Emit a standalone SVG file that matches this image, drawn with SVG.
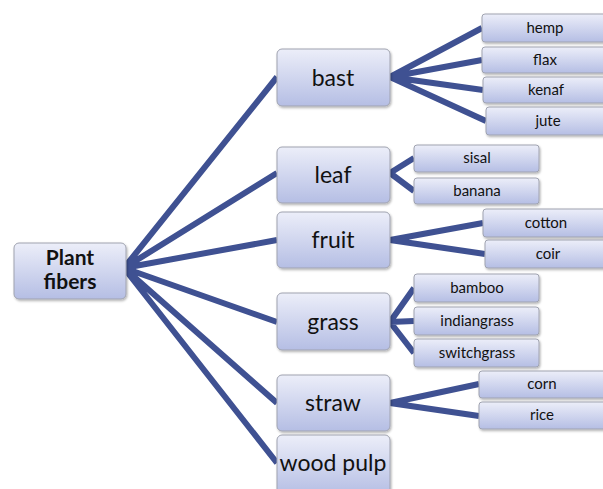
<svg xmlns="http://www.w3.org/2000/svg" width="603" height="489" viewBox="0 0 603 489">
<defs>
<linearGradient id="g" x1="0" y1="0" x2="0" y2="1">
<stop offset="0" stop-color="#eceef9"/>
<stop offset="1" stop-color="#b5bee4"/>
</linearGradient>
<filter id="sh" x="-10%" y="-10%" width="130%" height="140%">
<feDropShadow dx="1" dy="1.5" stdDeviation="1" flood-color="#000" flood-opacity="0.3"/>
</filter>
</defs>
<style>
.box{fill:url(#g);stroke:#a0a3b0;stroke-width:1;filter:url(#sh)}
.t{font-family:Lato,"Liberation Sans",sans-serif;fill:#111;text-anchor:middle}
.m{font-size:23px}
.s{font-size:15px}
.r{font-size:21px;font-weight:bold}
.c{stroke:#3f5192;stroke-width:6;fill:none;stroke-linecap:butt}
</style>
<rect width="603" height="489" fill="#fff"/>
<g id="connectors">
<path class="c" d="M124 268L277 77M124 268L277 173M124 268L277 240M124 268L277 322M124 268L277 403M124 268L277 463"/>
<path class="c" d="M390 77L482 28M390 77L482 60M390 77L483 90M390 77L486 121"/>
<path class="c" d="M390 173L414 158M390 173L414 191"/>
<path class="c" d="M390 240L483 223M390 240L485 254"/>
<path class="c" d="M390 322L414 288M390 322L414 321M390 322L414 353"/>
<path class="c" d="M390 403L479 384M390 403L479 416"/>
</g>
<g id="plant-fibers"><rect class="box" x="14" y="243" width="112" height="56" rx="5"/><text class="t r" x="70" y="265">Plant</text><text class="t r" x="70" y="289">fibers</text></g>
<g id="bast"><rect class="box" x="277" y="49" width="113" height="57" rx="5"/><text class="t m" x="333" y="86">bast</text></g>
<g id="leaf"><rect class="box" x="277" y="147" width="113" height="56" rx="5"/><text class="t m" x="333" y="183">leaf</text></g>
<g id="fruit"><rect class="box" x="277" y="212" width="113" height="56" rx="5"/><text class="t m" x="333" y="248">fruit</text></g>
<g id="grass"><rect class="box" x="277" y="293" width="113" height="57" rx="5"/><text class="t m" x="333" y="330">grass</text></g>
<g id="straw"><rect class="box" x="277" y="375" width="113" height="56" rx="5"/><text class="t m" x="333" y="411">straw</text></g>
<g id="wood-pulp"><rect class="box" x="277" y="435" width="113" height="60" rx="5"/><text class="t m" x="333" y="471">wood pulp</text></g>
<g id="hemp"><rect class="box" x="482" y="14" width="130" height="28" rx="3"/><text class="t s" x="545" y="33">hemp</text></g>
<g id="flax"><rect class="box" x="482" y="47" width="130" height="26" rx="3"/><text class="t s" x="545" y="65">flax</text></g>
<g id="kenaf"><rect class="box" x="483" y="77" width="130" height="26" rx="3"/><text class="t s" x="546" y="95">kenaf</text></g>
<g id="jute"><rect class="box" x="486" y="107" width="130" height="28" rx="3"/><text class="t s" x="548" y="126">jute</text></g>
<g id="sisal"><rect class="box" x="414" y="145" width="125" height="27" rx="3"/><text class="t s" x="477" y="163">sisal</text></g>
<g id="banana"><rect class="box" x="414" y="178" width="125" height="26" rx="3"/><text class="t s" x="477" y="196">banana</text></g>
<g id="cotton"><rect class="box" x="483" y="209" width="130" height="28" rx="3"/><text class="t s" x="546" y="228">cotton</text></g>
<g id="coir"><rect class="box" x="485" y="240" width="130" height="28" rx="3"/><text class="t s" x="548" y="259">coir</text></g>
<g id="bamboo"><rect class="box" x="414" y="274" width="125" height="28" rx="3"/><text class="t s" x="477" y="293">bamboo</text></g>
<g id="indiangrass"><rect class="box" x="414" y="307" width="125" height="28" rx="3"/><text class="t s" x="477" y="326">indiangrass</text></g>
<g id="switchgrass"><rect class="box" x="414" y="339" width="125" height="28" rx="3"/><text class="t s" x="477" y="358">switchgrass</text></g>
<g id="corn"><rect class="box" x="479" y="371" width="130" height="27" rx="3"/><text class="t s" x="542" y="389">corn</text></g>
<g id="rice"><rect class="box" x="479" y="402" width="130" height="27" rx="3"/><text class="t s" x="542" y="420">rice</text></g>
</svg>
